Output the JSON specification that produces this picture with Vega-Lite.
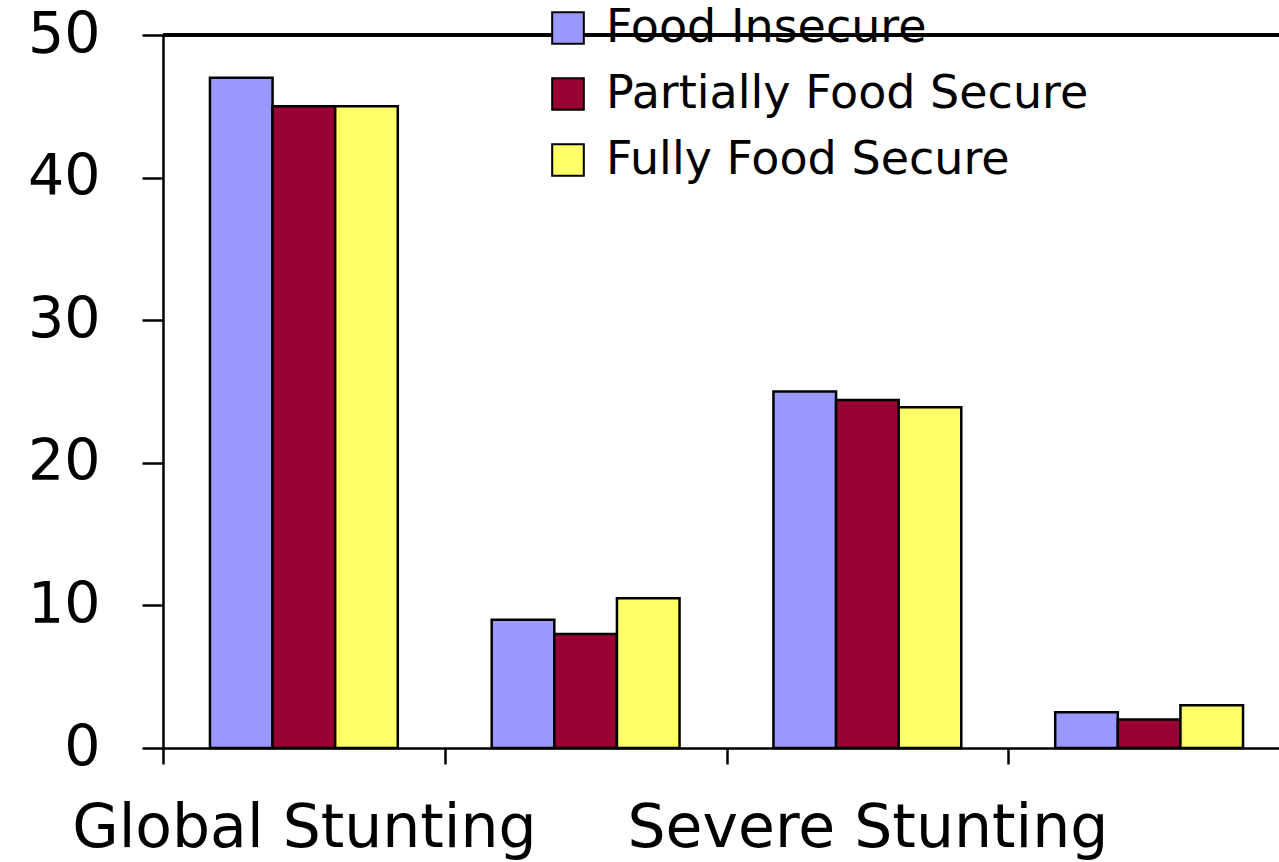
{
  "$schema": "https://vega.github.io/schema/vega-lite/v6.json",
  "width": 1127,
  "height": 713,
  "autosize": {"type": "none"},
  "padding": {"left": 163, "top": 35, "right": -11, "bottom": 114},
  "background": "white",
  "config": {"view": {"stroke": null}, "font": "DejaVu Sans"},
  "data": {
    "values": [
      {"category": "Global Stunting", "security": "Food Insecure", "percent": 47},
      {"category": "Global Stunting", "security": "Partially Food Secure", "percent": 45},
      {"category": "Global Stunting", "security": "Fully Food Secure", "percent": 45},
      {"category": "Global Wasting", "security": "Food Insecure", "percent": 9},
      {"category": "Global Wasting", "security": "Partially Food Secure", "percent": 8},
      {"category": "Global Wasting", "security": "Fully Food Secure", "percent": 10.5},
      {"category": "Severe Stunting", "security": "Food Insecure", "percent": 25},
      {"category": "Severe Stunting", "security": "Partially Food Secure", "percent": 24.4},
      {"category": "Severe Stunting", "security": "Fully Food Secure", "percent": 23.9},
      {"category": "Severe Wasting", "security": "Food Insecure", "percent": 2.5},
      {"category": "Severe Wasting", "security": "Partially Food Secure", "percent": 2},
      {"category": "Severe Wasting", "security": "Fully Food Secure", "percent": 3}
    ]
  },
  "layer": [
    {
      "mark": {"type": "bar", "stroke": "black", "strokeWidth": 2.5},
      "encoding": {
        "x": {
          "field": "category",
          "type": "nominal",
          "sort": ["Global Stunting", "Global Wasting", "Severe Stunting", "Severe Wasting"],
          "scale": {"paddingInner": 0, "paddingOuter": 0},
          "axis": {
            "title": null,
            "domainColor": "black",
            "domainWidth": 2.5,
            "tickColor": "black",
            "tickWidth": 2.5,
            "tickSize": 16,
            "tickBand": "extent",
            "labelAngle": 0,
            "labelFontSize": 60,
            "labelColor": "black",
            "labelPadding": 35,
            "labelLimit": 0,
            "labelOverlap": false,
            "labelExpr": "indexof(datum.label, 'Stunting') >= 0 ? datum.label : ''",
            "labelFont": "DejaVu Sans"
          }
        },
        "xOffset": {
          "field": "security",
          "type": "nominal",
          "sort": ["Food Insecure", "Partially Food Secure", "Fully Food Secure"],
          "scale": {"paddingInner": 0, "paddingOuter": 0.75}
        },
        "y": {
          "field": "percent",
          "type": "quantitative",
          "scale": {"domain": [0, 50]},
          "axis": {
            "title": null,
            "values": [0, 10, 20, 30, 40, 50],
            "grid": false,
            "tickSize": 21,
            "tickWidth": 2.5,
            "tickColor": "black",
            "domainColor": "black",
            "domainWidth": 2.5,
            "labelFontSize": 57,
            "labelColor": "black",
            "labelPadding": 42,
            "labelFont": "DejaVu Sans"
          }
        },
        "color": {
          "field": "security",
          "type": "nominal",
          "sort": ["Food Insecure", "Partially Food Secure", "Fully Food Secure"],
          "scale": {
            "domain": ["Food Insecure", "Partially Food Secure", "Fully Food Secure"],
            "range": ["#9999FF", "#990033", "#FFFF66"]
          },
          "legend": {
            "orient": "none",
            "legendX": 382,
            "legendY": -30,
            "title": null,
            "labelFontSize": 46,
            "labelFont": "DejaVu Sans",
            "labelColor": "black",
            "labelLimit": 0,
            "symbolType": "square",
            "symbolSize": 1000,
            "symbolStrokeColor": "black",
            "symbolStrokeWidth": 2,
            "symbolOpacity": 1,
            "rowPadding": 20,
            "labelOffset": 15,
            "padding": 0
          }
        }
      }
    },
    {
      "mark": {"type": "rule", "color": "black", "strokeWidth": 2.5},
      "encoding": {"y": {"datum": 50}}
    }
  ]
}
